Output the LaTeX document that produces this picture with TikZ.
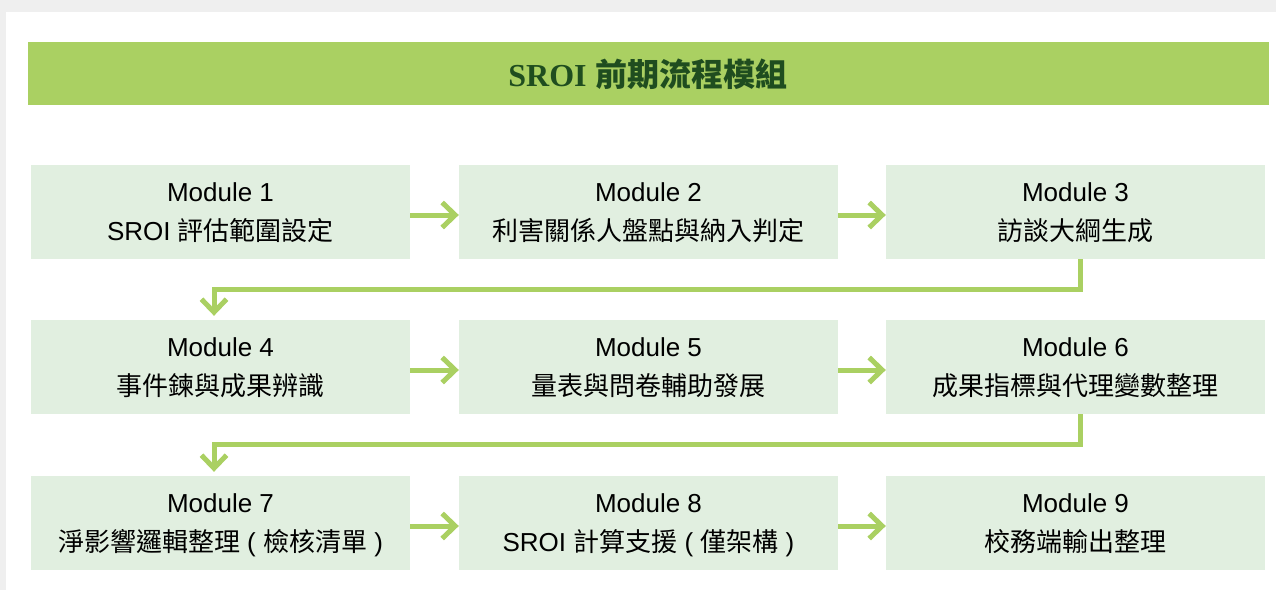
\documentclass[tikz,border=0pt]{standalone}
\usepackage{fontspec}
\setmainfont{Liberation Sans}
\newfontfamily\cjk{Noto Sans CJK TC}
\newfontfamily\ttlfont{Liberation Serif}
\usetikzlibrary{arrows.meta}
\definecolor{barGreen}{HTML}{AAD062}
\definecolor{boxGreen}{HTML}{E1EFE0}
\definecolor{ttlGreen}{HTML}{1F4D1F}
\definecolor{pageGray}{HTML}{EFEFEF}
\newcommand{\zh}[1]{{\cjk #1}}
\tikzset{
  module/.style={fill=boxGreen, minimum width=379pt, minimum height=94pt, inner sep=0pt,
    align=center, text depth=-3pt, font=\fontsize{26pt}{39pt}\selectfont},
  flow/.style={draw=barGreen, line width=5pt, line join=miter, -{Straight Barb[length=13pt,width=25pt]}},
}
\begin{document}
\begin{tikzpicture}[x=1pt,y=-1pt]
        \useasboundingbox (0,0) rectangle (1276,590);
        \fill[pageGray] (0,0) rectangle (1276,590);
        \fill[white] (6,12) rectangle (1276,590);
        % title bar
        \fill[barGreen] (28,42) rectangle (1269,105);
        \node[text=ttlGreen, font=\fontsize{32pt}{38pt}\selectfont\bfseries] (title) at (648,74)
            {{\ttlfont SROI} \zh{前期流程模組}};
        % modules
        \node[module] (m1) at (220.5,212) {Module 1\\SROI \zh{評估範圍設定}};
        \node[module] (m2) at (648.5,212) {Module 2\\\zh{利害關係人盤點與納入判定}};
        \node[module] (m3) at (1075.5,212) {Module 3\\\zh{訪談大綱生成}};
        \node[module] (m4) at (220.5,367) {Module 4\\\zh{事件鍊與成果辨識}};
        \node[module] (m5) at (648.5,367) {Module 5\\\zh{量表與問卷輔助發展}};
        \node[module] (m6) at (1075.5,367) {Module 6\\\zh{成果指標與代理變數整理}};
        \node[module] (m7) at (220.5,523) {Module 7\\\zh{淨影響邏輯整理} ( \zh{檢核清單} )};
        \node[module] (m8) at (648.5,523) {Module 8\\SROI \zh{計算支援} ( \zh{僅架構} )};
        \node[module] (m9) at (1075.5,523) {Module 9\\\zh{校務端輸出整理}};
        % arrows
        \foreach \a/\b in {m1/m2,m2/m3,m4/m5,m5/m6,m7/m8,m8/m9}
            \draw[flow] ([yshift=-3pt]\a.east) -- ([yshift=-3pt]\b.west);
        \draw[flow] ([xshift=4.5pt]m3.south) -- ++(0,30) -| ([xshift=-6.5pt,yshift=4pt]m4.north);
        \draw[flow] ([xshift=4.5pt]m6.south) -- ++(0,30) -| ([xshift=-6.5pt,yshift=4pt]m7.north);
\end{tikzpicture}
\end{document}
